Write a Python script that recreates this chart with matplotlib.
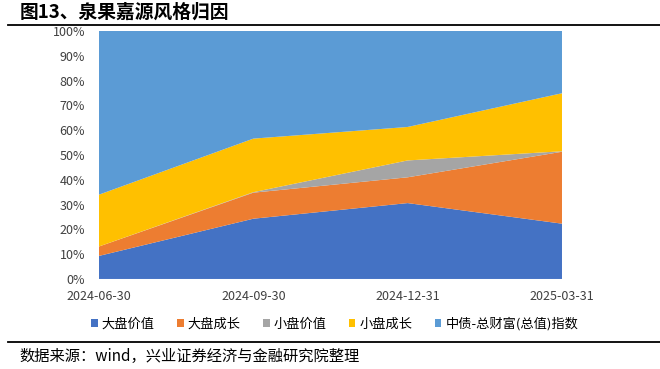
import matplotlib
matplotlib.use("Agg")
import matplotlib.pyplot as plt
import numpy as np

plt.rcParams["font.family"] = ["Noto Sans CJK SC", "DejaVu Sans"]

# data (share of return attribution, %)
dates = ["2024-06-30", "2024-09-30", "2024-12-31", "2025-03-31"]
large_value = [9.3, 24.3, 30.6, 22.3]
large_growth = [3.8, 10.5, 10.4, 29.0]
small_value = [0.0, 0.2, 6.8, 0.2]
small_growth = [20.9, 21.6, 13.5, 23.4]
bond_index = [66.0, 43.4, 38.7, 25.1]

names = ["大盘价值", "大盘成长", "小盘价值", "小盘成长", "中债-总财富(总值)指数"]
colors = ["#4472C4", "#ED7D31", "#A5A5A5", "#FFC000", "#5B9BD5"]

fig = plt.figure(figsize=(6.6, 3.69), dpi=100)
ax = fig.add_axes([0.15, 0.244, 0.7015, 0.672])

x = np.arange(len(dates))
ax.stackplot(x, large_value, large_growth, small_value, small_growth, bond_index,
             colors=colors, labels=names, linewidth=0)

ax.set_xlim(0, 3)
ax.set_ylim(0, 100)
ax.set_yticks(np.arange(0, 101, 10))
ax.set_yticklabels([f"{v}%" for v in range(0, 101, 10)], fontsize=9, color="#404040")
ax.set_xticks(x)
ax.set_xticklabels(dates, fontsize=9, color="#404040")
ax.tick_params(axis="x", length=0, pad=8)
ax.tick_params(axis="y", length=0, pad=10)
for s in ax.spines.values():
    s.set_visible(False)

fig.text(0.03, 0.967, "图13、泉果嘉源风格归因", fontsize=13.5, fontweight="bold",
         va="center", ha="left")
fig.add_artist(plt.Line2D([0.012, 1.0], [0.932, 0.932], color="black", lw=1.3))
fig.add_artist(plt.Line2D([0.012, 1.0], [0.073, 0.073], color="black", lw=1.3))
fig.text(0.03, 0.033, "数据来源：wind，兴业证券经济与金融研究院整理", fontsize=11,
         va="center", ha="left")

fig.legend(loc="center", bbox_to_anchor=(0.507, 0.123), ncol=5, frameon=False,
           fontsize=9.5, handlelength=0.5, handleheight=0.5, handletextpad=0.3,
           columnspacing=1.7)

fig.savefig("out.png", dpi=100)
